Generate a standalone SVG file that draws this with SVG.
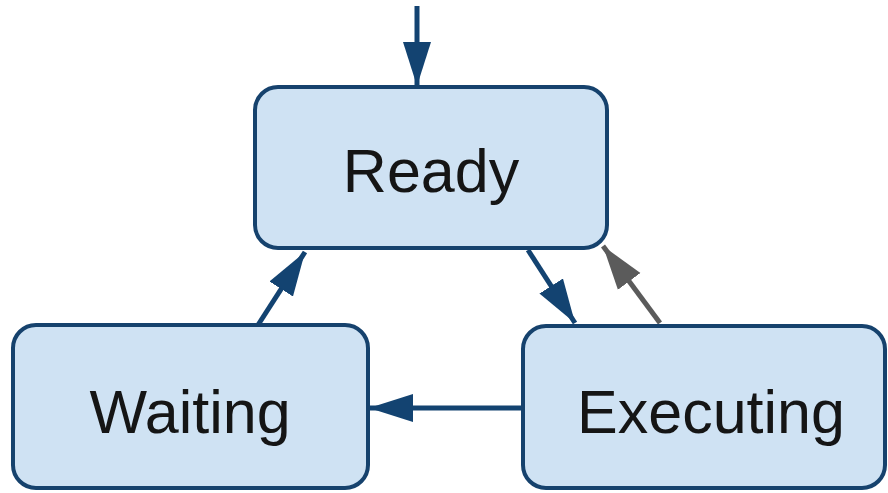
<svg xmlns="http://www.w3.org/2000/svg" width="888" height="493" viewBox="0 0 888 493">
<style>
.box{fill:#cfe2f3;stroke:#16426d;stroke-width:4}
.lbl{font-family:"Liberation Sans",Arial,sans-serif;font-size:61px;fill:#151515;text-anchor:middle}
.edge{stroke:#134371;stroke-width:5;fill:none;marker-end:url(#ah)}
.edge.grey{stroke:#5b5b5b;marker-end:url(#ahg)}
</style>
<defs>
<marker id="ah" markerUnits="userSpaceOnUse" viewBox="0 0 44 30" refX="44" refY="15" markerWidth="44" markerHeight="30" orient="auto">
<path d="M0,1 L44,15 L0,29 z" fill="#134371"/>
</marker>
<marker id="ahg" markerUnits="userSpaceOnUse" viewBox="0 0 44 30" refX="44" refY="15" markerWidth="44" markerHeight="30" orient="auto">
<path d="M0,1 L44,15 L0,29 z" fill="#5b5b5b"/>
</marker>
</defs>
<g id="connectors">
<line class="edge" x1="417" y1="6" x2="417" y2="86"/>
<line class="edge" x1="528" y1="250" x2="575" y2="323"/>
<line class="edge grey" x1="660" y1="323" x2="603" y2="246"/>
<line class="edge" x1="258" y1="325" x2="305" y2="252"/>
<line class="edge" x1="523" y1="408" x2="369" y2="408"/>
</g>
<g id="ready">
<rect class="box" x="255" y="87" width="352" height="161" rx="23"/>
<text class="lbl" x="431" y="192">Ready</text>
</g>
<g id="waiting">
<rect class="box" x="13" y="325" width="355" height="163" rx="23"/>
<text class="lbl" x="190" y="433">Waiting</text>
</g>
<g id="executing">
<rect class="box" x="523" y="326" width="362" height="162" rx="23"/>
<text class="lbl" x="711" y="433">Executing</text>
</g>
</svg>
